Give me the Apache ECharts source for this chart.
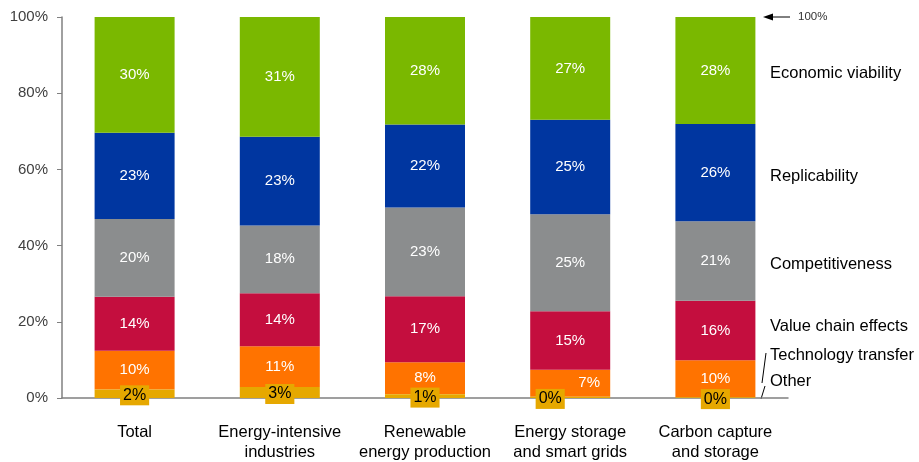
<!DOCTYPE html>
<html>
<head>
<meta charset="utf-8">
<script src="https://cdn.jsdelivr.net/npm/echarts@6/dist/echarts.min.js"></script>
<style>html,body{margin:0;padding:0;background:#fff}#c{width:919px;height:462px}</style>
</head>
<body>
<div id="c"></div>
<script>
const categories = ['Total', 'Energy-intensive\nindustries', 'Renewable\nenergy production', 'Energy storage\nand smart grids', 'Carbon capture\nand storage'];
const other        = [2.2, 2.9, 1.0, 0.3, 0.2];
const techTransfer = [10.2, 10.7, 8.4, 7.1, 9.7];
const valueChain   = [14.2, 13.9, 17.3, 15.4, 15.6];
const competitive  = [20.4, 17.8, 23.3, 25.4, 20.9];
const replicable   = [22.6, 23.3, 21.8, 24.8, 25.5];
const economic     = [30.4, 31.4, 28.2, 27.0, 28.1];
const yTicks = [0, 20, 40, 60, 80, 100];

const FONT = 'Liberation Sans, Arial, sans-serif';
const chart = echarts.init(document.getElementById('c'));

function mkSeries(name, data, color, opts) {
  opts = opts || {};
  return {
    name: name, type: 'bar', stack: 'all', barWidth: 80,
    itemStyle: { color: color },
    data: data.map((v, i) => {
      const d = { value: v };
      if (opts.offsets && opts.offsets[i]) d.label = { offset: opts.offsets[i] };
      return d;
    }),
    label: Object.assign({
      show: true, position: 'inside', color: '#fff', fontSize: 15, fontFamily: FONT,
      formatter: p => Math.round(p.value) + '%'
    }, opts.label || {}),
    z: opts.z || 2
  };
}

const series = [
  mkSeries('Other', other, '#e6a800', {
    z: 5,
    label: { color: '#000', fontSize: 16, backgroundColor: '#e6a800', padding: [2, 3, 2, 3], offset: [0, 1.5] },
    offsets: [null, null, null, [-20, 1.5], null]
  }),
  mkSeries('Technology transfer', techTransfer, '#ff7300', { offsets: [null, null, null, [19, 0], null] }),
  mkSeries('Value chain effects', valueChain, '#c40e3e'),
  mkSeries('Competitiveness', competitive, '#8b8d8e'),
  mkSeries('Replicability', replicable, '#0036a0'),
  mkSeries('Economic viability', economic, '#7ab800')
];

const legendTexts = [
  ['Economic viability', 72], ['Replicability', 175], ['Competitiveness', 263],
  ['Value chain effects', 325], ['Technology transfer', 354], ['Other', 380]
];

chart.setOption({
  animation: false,
  grid: { left: 62, right: 131, top: 17, bottom: 63 },
  xAxis: {
    type: 'category', data: categories,
    axisLine: { lineStyle: { color: '#808080', width: 1.5 } },
    axisTick: { show: false },
    axisLabel: { interval: 0, color: '#000', fontSize: 16.5, fontFamily: FONT, lineHeight: 20, margin: 24 }
  },
  yAxis: {
    type: 'value', min: 0, max: 100, interval: 20,
    axisLine: { show: true, lineStyle: { color: '#808080', width: 1.5 } },
    axisTick: { show: true, length: 5, lineStyle: { color: '#808080' } },
    splitLine: { show: false },
    axisLabel: { color: '#404040', fontSize: 15, fontFamily: FONT, margin: 14, padding: [4, 0, 0, 0],
      formatter: v => yTicks.includes(v) ? v + '%' : '' }
  },
  series: series,
  graphic: [
    ...legendTexts.map(t => ({
      type: 'text', left: 770, top: t[1] - 7,
      style: { text: t[0], fill: '#000', font: '16.5px ' + FONT }
    })),
    { type: 'line', shape: { x1: 766, y1: 353, x2: 762, y2: 383 }, style: { stroke: '#000', lineWidth: 1 } },
    { type: 'line', shape: { x1: 765, y1: 386, x2: 761, y2: 399 }, style: { stroke: '#000', lineWidth: 1 } },
    { type: 'line', shape: { x1: 772, y1: 17, x2: 790, y2: 17 }, style: { stroke: '#000', lineWidth: 1 } },
    { type: 'polygon', shape: { points: [[763, 17], [773, 13.5], [773, 20.5]] }, style: { fill: '#000' } },
    { type: 'text', left: 798, top: 11, style: { text: '100%', fill: '#333', font: '11.5px ' + FONT } }
  ]
});
</script>
</body>
</html>
